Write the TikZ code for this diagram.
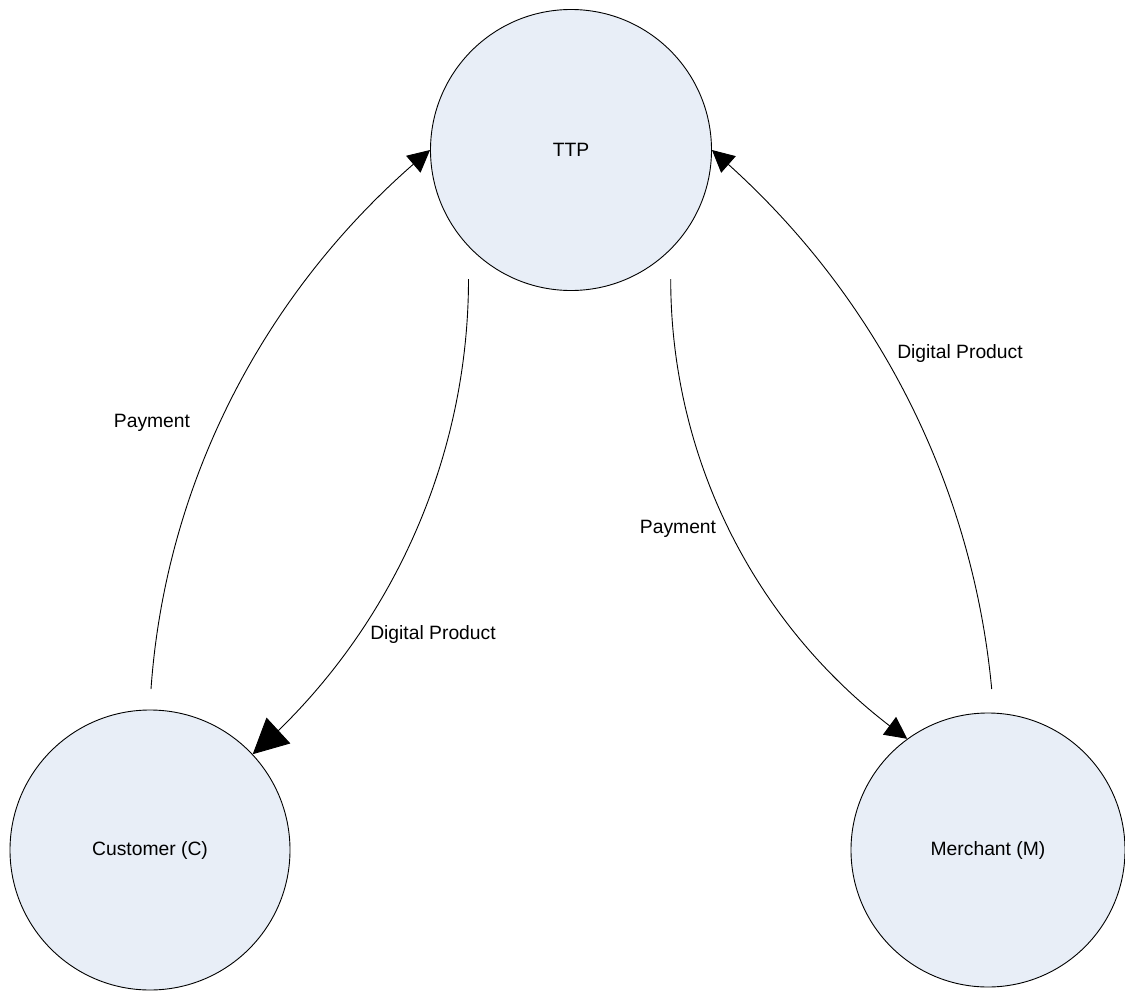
\documentclass[tikz,border=0pt]{standalone}
\usepackage{fontspec}
\setmainfont{Liberation Sans}
\usetikzlibrary{arrows.meta,bending}

\definecolor{partyfill}{RGB}{232,238,247}

\tikzset{
  party/.style={circle, draw=black, line width=0.9pt, fill=partyfill,
                inner sep=0pt, font=\fontsize{19.3}{23}\selectfont},
  flow/.style={draw=black, line width=0.9pt},
  tipsmall/.style={-{Triangle[length=22pt,width=22pt,flex]}},
  tipbig/.style={-{Triangle[length=35pt,width=35pt,flex]}},
  lbl/.style={font=\fontsize{19.3}{23}\selectfont, inner sep=0pt}
}

\begin{document}
\begin{tikzpicture}[x=1pt,y=-1pt]
  \useasboundingbox (0,0) rectangle (1125,993);

  % the three parties
  \node[party, minimum size=281pt] (ttp)   at (571,150) {TTP};
  \node[party, minimum size=280pt] (cust)  at (150,850) {Customer (C)};
  \node[party, minimum size=274pt] (merch) at (988,850) {Merchant (M)};

  % free ends of the flows
  \coordinate (payC)  at (151,689);
  \coordinate (prodT) at (468.5,279);
  \coordinate (payT)  at (670.7,279);
  \coordinate (prodM) at (991.7,689);

  % customer pays the TTP
  \draw[flow, tipsmall] (payC) .. controls (165.8,478.5) and (267.9,284) .. (ttp.180);
  % TTP delivers the product to the customer
  \draw[flow, tipbig] (prodT) .. controls (468.5,461) and (389.2,635.4) .. (cust.43);
  % TTP forwards the payment to the merchant
  \draw[flow, tipsmall] (payT) .. controls (670.7,462) and (758.4,633.5) .. (merch.126.6);
  % merchant hands the product to the TTP
  \draw[flow, tipsmall] (prodM) .. controls (972.1,479.3) and (872,286.6) .. (ttp.0);

  % flow labels
  \node[lbl] (l1) at (152,423) {Payment};
  \node[lbl] (l2) at (433,635) {Digital Product};
  \node[lbl] (l3) at (678,529) {Payment};
  \node[lbl] (l4) at (960,354) {Digital Product};
\end{tikzpicture}
\end{document}
